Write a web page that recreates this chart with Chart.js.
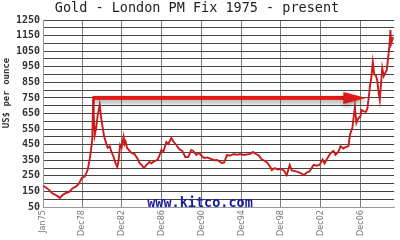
<!DOCTYPE html>
<html>
<head>
<meta charset="utf-8">
<script src="https://cdn.jsdelivr.net/npm/chart.js@4"></script>
<style>
  html, body { margin: 0; padding: 0; background: #fff; }
  #wrap { width: 400px; height: 240px; position: relative; }
</style>
</head>
<body>
<div id="wrap"><canvas id="chart"></canvas></div>
<script>
// gold price, London PM fix (decimal year -> US$ per ounce)
const years = [
  1975.0, 1975.3, 1975.6, 1975.9, 1976.2, 1976.5, 1976.7, 1977.0, 1977.3, 1977.6,
  1978.0, 1978.3, 1978.6, 1978.9, 1979.2, 1979.5, 1979.75, 1979.95, 1980.05, 1980.1,
  1980.2, 1980.35, 1980.5, 1980.7, 1980.85, 1981.0, 1981.15, 1981.3, 1981.5, 1981.7,
  1981.9, 1982.1, 1982.3, 1982.47, 1982.6, 1982.75, 1982.9, 1983.1, 1983.2, 1983.3,
  1983.45, 1983.7, 1983.9, 1984.2, 1984.5, 1984.7, 1984.9, 1985.15, 1985.4, 1985.7,
  1985.9, 1986.2, 1986.5, 1986.7, 1986.9, 1987.1, 1987.4, 1987.6, 1987.9, 1988.1,
  1988.4, 1988.7, 1989.0, 1989.3, 1989.6, 1989.9, 1990.1, 1990.4, 1990.7, 1990.9,
  1991.2, 1991.5, 1991.8, 1992.2, 1992.5, 1992.8, 1993.0, 1993.2, 1993.5, 1993.8,
  1994.2, 1994.5, 1994.8, 1995.2, 1995.5, 1995.8, 1996.1, 1996.4, 1996.7, 1997.0,
  1997.3, 1997.6, 1997.9, 1998.0, 1998.3, 1998.6, 1998.9, 1999.2, 1999.5, 1999.8,
  2000.0, 2000.3, 2000.6, 2000.9, 2001.2, 2001.5, 2001.8, 2002.2, 2002.5, 2002.8,
  2003.1, 2003.3, 2003.6, 2003.9, 2004.2, 2004.4, 2004.7, 2004.9, 2005.2, 2005.4,
  2005.7, 2005.85, 2006.1, 2006.35, 2006.5, 2006.7, 2006.9, 2007.0, 2007.2, 2007.45,
  2007.6, 2007.75, 2007.85, 2008.0, 2008.15, 2008.3, 2008.45, 2008.6, 2008.7, 2008.85,
  2009.0, 2009.1, 2009.25, 2009.4, 2009.55, 2009.7, 2009.85, 2009.92, 2010.0, 2010.1,
  2010.2
];
const prices = [
  185, 175, 160, 140, 130, 118, 108, 128, 140, 145,
  172, 180, 200, 236, 245, 290, 380, 480, 760, 640,
  512, 560, 640, 705, 620, 560, 500, 470, 430, 440,
  400, 371, 330, 307, 350, 448, 430, 500, 455, 470,
  429, 410, 397, 390, 360, 333, 320, 300, 320, 339,
  330, 345, 352, 380, 416, 405, 467, 455, 493, 470,
  448, 420, 410, 371, 370, 416, 410, 384, 397, 380,
  365, 368, 360, 350, 352, 340, 333, 335, 384, 380,
  390, 385, 390, 384, 388, 390, 403, 390, 380, 355,
  345, 330, 300, 287, 300, 290, 295, 285, 255, 320,
  285, 280, 275, 268, 255, 270, 280, 320, 315, 320,
  355, 330, 365, 395, 410, 385, 405, 440, 425, 435,
  440, 512, 560, 692, 590, 620, 630, 673, 665, 660,
  680, 756, 820, 880, 980, 900, 897, 860, 801, 737,
  860, 942, 890, 910, 930, 1013, 1100, 1186, 1100, 1120,
  1140
];

const xTickYears = [1975.0, 1978.92, 1982.92, 1986.92, 1990.92, 1994.92, 1998.92, 2002.92, 2006.92];
const xTickLabels = ["Jan75", "Dec78", "Dec82", "Dec86", "Dec90", "Dec94", "Dec98", "Dec02", "Dec06"];

// the red "same level" arrow: [year, price]
const arrowFrom = [1980.05, 750];
const arrowTo = [2007.5, 750];

const extras = {
  id: "extras",
  afterDatasetsDraw(chart) {
    const { ctx, scales } = chart;
    const x0 = scales.x.getPixelForValue(arrowFrom[0]);
    const x1 = scales.x.getPixelForValue(arrowTo[0]);
    const y = scales.y.getPixelForValue(arrowFrom[1]);
    ctx.save();
    ctx.shadowColor = "rgba(0,0,0,0.35)";
    ctx.shadowBlur = 4;
    ctx.shadowOffsetY = 3;
    ctx.fillStyle = "#e01818";
    ctx.fillRect(x0, y - 2, (x1 - 22) - x0, 4);
    ctx.beginPath();
    ctx.moveTo(x1 - 23, y - 6);
    ctx.lineTo(x1, y);
    ctx.lineTo(x1 - 23, y + 6);
    ctx.closePath();
    ctx.fill();
    ctx.restore();
  },
  afterDraw(chart) {
    const { ctx } = chart;
    ctx.save();
    ctx.fillStyle = "#1a1aa0";
    ctx.font = "bold 13.5px 'DejaVu Sans Mono'";
    ctx.textAlign = "center";
    ctx.textBaseline = "middle";
    ctx.fillText("www.kitco.com", 200, 203);
    ctx.translate(7, 93);
    ctx.rotate(-Math.PI / 2);
    ctx.fillStyle = "#333";
    ctx.font = "bold 9px 'DejaVu Sans Mono'";
    ctx.fillText("US$ per ounce", 0, 0);
    ctx.restore();
  }
};

new Chart(document.getElementById("chart"), {
  type: "line",
  data: {
    datasets: [{
      data: years.map((x, i) => ({ x: x, y: prices[i] })),
      borderColor: "#cc1a1a",
      borderWidth: 1.9,
      pointRadius: 0,
      tension: 0
    }]
  },
  options: {
    responsive: true,
    maintainAspectRatio: false,
    animation: false,
    layout: { padding: { left: 0, right: 6, top: 0, bottom: 0 } },
    plugins: {
      legend: { display: false },
      tooltip: { enabled: false },
      title: {
        display: true,
        text: "Gold - London PM Fix 1975 - present",
        color: "#222",
        font: { family: "DejaVu Sans Mono", size: 13.5, weight: "normal", lineHeight: 1 },
        padding: { top: 2, bottom: 4.5 }
      }
    },
    scales: {
      x: {
        type: "linear",
        min: 1975,
        max: 2010.28,
        afterBuildTicks: (s) => { s.ticks = xTickYears.map((v) => ({ value: v })); },
        afterFit: (s) => { s.height = 33; },
        ticks: {
          autoSkip: false,
          maxRotation: 90,
          minRotation: 90,
          padding: 3,
          color: "#777",
          font: { family: "DejaVu Sans Condensed", size: 9 },
          callback: (v, i) => xTickLabels[i]
        },
        grid: { color: "#7a7a7a", drawTicks: false },
        border: { display: true, color: "#999" }
      },
      y: {
        min: 50,
        max: 1250,
        afterFit: (s) => { s.width = 43; },
        ticks: {
          stepSize: 50,
          autoSkip: false,
          padding: 3,
          color: "#333",
          font: { family: "DejaVu Sans Mono", size: 10, weight: "bold" },
          callback: (v) => ((v - 50) % 100 === 0 ? v : "")
        },
        grid: { color: "#444", drawTicks: false },
        border: { display: true, color: "#999" }
      }
    }
  },
  plugins: [extras]
});
</script>
</body>
</html>
